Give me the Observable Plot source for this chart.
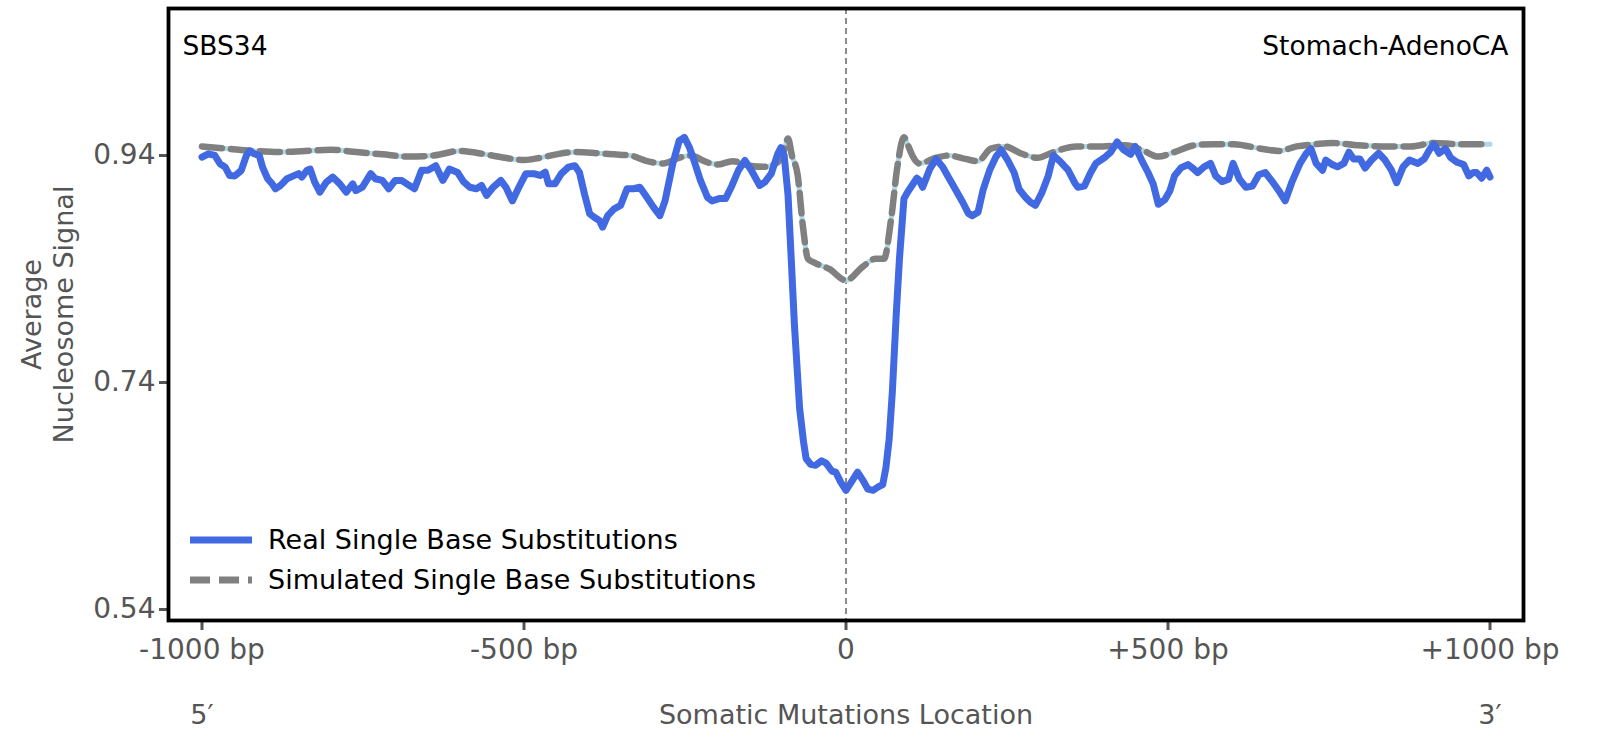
<!DOCTYPE html>
<html>
<head>
<meta charset="utf-8">
<script src="https://cdn.jsdelivr.net/npm/d3@7"></script>
<script src="https://cdn.jsdelivr.net/npm/@observablehq/plot@0.6"></script>
<style>
  html, body { margin: 0; padding: 0; background: white; }
  #chart { width: 1603px; height: 756px; }
</style>
</head>
<body>
<div id="chart"></div>
<script>
// ---- Data ----
const realX = [-1000,-990,-980,-972,-964,-957,-949,-939,-931,-926,-919,-911,-906,-898,-891,-886,-878,-868,-858,-850,-845,-837,-832,-825,-817,-807,-797,-786,-776,-766,-761,-751,-738,-731,-720,-710,-700,-690,-682,-670,-659,-649,-637,-626,-616,-603,
  -594,-584,-574,-566,-558,-548,-536,-528,-518,-508,-497,-485,-475,-467,-462,-452,-442,-431,-421,-414,-406,-398,-391,-383,-378,-370,-360,-350,-340,-330,-320,-309,-299,-289,-281,-269,-259,-251,-243,-236,-226,-215,-208,-197,-187,-177,-167,-157,-147,-134,-126,-116,-106,-101,
  -96,-90,-86,-80,-72,-66,-62,-55,-47,-38,-31,-22,-16,-8,0,8,18,26,34,42,50,57,62,67,72,78,83,90,96,103,110,114,119,130,140,150,160,170,181,190,196,205,
  213,223,233,241,251,261,269,279,286,294,304,314,322,332,345,355,360,370,380,388,401,411,421,431,442,449,459,469,477,485,495,503,510,520,531,538,546,556,566,574,584,594,
  601,611,621,631,641,651,662,672,682,692,705,715,722,730,740,745,755,763,773,781,788,798,806,816,827,837,847,855,865,875,888,898,906,913,921,931,939,949,959,967,974,979,987,995,1000];
const realY = [0.9385,0.9415,0.940,0.9327,0.9297,0.9224,0.922,0.9268,0.940,0.944,0.9415,0.940,0.9297,0.9195,0.915,0.9107,0.9136,0.9195,0.922,0.924,0.921,0.927,0.928,0.9165,0.9077,0.9165,0.921,0.915,0.9077,0.915,0.909,0.912,0.924,0.9195,0.918,0.9107,0.918,0.918,0.915,0.9107,0.927,0.927,0.931,0.918,0.928,0.925,
  0.917,0.912,0.9107,0.9136,0.9048,0.912,0.918,0.912,0.900,0.912,0.924,0.924,0.9224,0.9253,0.915,0.915,0.924,0.9297,0.931,0.9253,0.906,0.8886,0.8856,0.8827,0.8768,0.887,0.893,0.896,0.9107,0.9107,0.912,0.903,0.8945,0.887,0.900,0.9327,0.953,0.956,0.947,0.9356,0.918,0.903,0.900,0.902,0.902,0.9136,0.927,0.9356,0.927,0.9136,0.9165,0.924,0.9415,0.947,
  0.940,0.905,0.860,0.790,0.717,0.688,0.673,0.668,0.667,0.671,0.669,0.662,0.661,0.652,0.645,0.652,0.661,0.654,0.646,0.645,0.648,0.650,0.665,0.690,0.732,0.800,0.849,0.902,0.908,0.914,0.920,0.918,0.912,0.928,0.937,0.930,0.920,0.910,0.899,0.889,0.887,0.890,
  0.910,0.927,0.939,0.945,0.936,0.925,0.910,0.903,0.899,0.896,0.907,0.922,0.940,0.935,0.927,0.916,0.912,0.913,0.925,0.933,0.938,0.943,0.952,0.945,0.941,0.948,0.936,0.925,0.915,0.897,0.901,0.909,0.922,0.929,0.932,0.929,0.925,0.930,0.933,0.922,0.917,0.919,
  0.933,0.919,0.912,0.913,0.923,0.925,0.917,0.909,0.900,0.916,0.933,0.942,0.946,0.933,0.927,0.936,0.932,0.930,0.933,0.943,0.937,0.937,0.929,0.936,0.942,0.936,0.927,0.916,0.930,0.936,0.933,0.937,0.945,0.950,0.942,0.946,0.938,0.934,0.932,0.922,0.925,0.925,0.920,0.927,0.921];

const simX = [-1000,-960,-920,-880,-840,-800,-760,-720,-680,-640,-600,-560,-530,-500,-475,-450,-420,-386,-360,-335,-309,-284,-259,-240,-220,-200,-176,-150,-128,-106,-96,-90,-84,-75,-67,-59,-47,-26,0,26,46,59,70,80,90,97,103,114,140,160,185,205,225,246,271,297,322,358,398,434,459,485,510,541,571,602,644,672,700,730,755,796,837,877,913,949,1000];
const simY = [0.948,0.946,0.944,0.943,0.944,0.945,0.943,0.941,0.939,0.940,0.944,0.941,0.938,0.936,0.938,0.941,0.943,0.942,0.941,0.940,0.935,0.933,0.938,0.940,0.935,0.932,0.935,0.931,0.930,0.934,0.945,0.955,0.940,0.9225,0.878,0.849,0.845,0.840,0.830,0.842,0.849,0.849,0.884,0.931,0.956,0.948,0.940,0.933,0.938,0.940,0.937,0.935,0.946,0.948,0.942,0.938,0.943,0.948,0.948,0.949,0.945,0.939,0.943,0.949,0.950,0.950,0.946,0.944,0.948,0.950,0.951,0.949,0.948,0.948,0.951,0.950,0.950];

const xTicks = [-1000, -500, 0, 500, 1000];
const xTickLabels = ["-1000 bp", "-500 bp", "0", "+500 bp", "+1000 bp"];
const yTicks = [0.54, 0.74, 0.94];
const signature = "SBS34";
const cancerType = "Stomach-AdenoCA";
const legendLabels = ["Real Single Base Substitutions", "Simulated Single Base Substitutions"];

const real = realX.map((x, i) => ({x, y: realY[i]}));
const sim = simX.map((x, i) => ({x, y: simY[i]}));

const FONT = "DejaVu Sans, sans-serif";
const AXIS_COLOR = "#555555";

const W = 1603, H = 756;
const mL = 168, mR = 80, mT = 8, mB = 136;

const plot = Plot.plot({
  width: W,
  height: H,
  marginLeft: mL,
  marginRight: mR,
  marginTop: mT,
  marginBottom: mB,
  style: {fontFamily: FONT, background: "white", overflow: "visible"},
  x: {domain: [-1052, 1052]},
  y: {domain: [0.5303, 1.0695]},
  marks: [
    Plot.ruleX([0], {stroke: "gray", strokeWidth: 1.8, strokeDasharray: "6,4"}),
    Plot.line(sim, {x: "x", y: "y", stroke: "#ADD8E6", strokeWidth: 5, curve: "monotone-x"}),
    Plot.line(sim, {x: "x", y: "y", stroke: "gray", strokeWidth: 6.5, strokeDasharray: "20,9", curve: "monotone-x"}),
    Plot.line(real, {x: "x", y: "y", stroke: "royalblue", strokeWidth: 7, strokeLinejoin: "round", strokeLinecap: "round"}),
    Plot.axisY({ticks: yTicks, tickFormat: d3.format(".2f"), tickSize: 9, tickPadding: 4,
      fontSize: 28, color: AXIS_COLOR, strokeWidth: 3, label: null}),
    Plot.axisX({ticks: xTicks, tickFormat: (d) => xTickLabels[xTicks.indexOf(d)], tickSize: 10,
      tickPadding: 9, fontSize: 28, color: AXIS_COLOR, strokeWidth: 3, label: null}),
    Plot.frame({stroke: "black", strokeWidth: 3.8}),
    Plot.text([signature], {frameAnchor: "top-left", dx: 14, dy: 38, fontSize: 26.5, fill: "black", textAnchor: "start", lineAnchor: "middle"}),
    Plot.text([cancerType], {frameAnchor: "top-right", dx: -15, dy: 38, fontSize: 26.5, fill: "black", textAnchor: "end", lineAnchor: "middle"}),
    Plot.text(["Average\nNucleosome Signal"], {frameAnchor: "left", dx: -122, dy: 0, rotate: -90,
      fontSize: 27, fill: AXIS_COLOR, lineHeight: 1.18, textAnchor: "middle"}),
    Plot.text(["Somatic Mutations Location"], {frameAnchor: "bottom", dy: 103, fontSize: 27, fill: AXIS_COLOR}),
    Plot.text([{x: -1000, t: "5′"}, {x: 1000, t: "3′"}], {x: "x", text: "t", frameAnchor: "bottom", dy: 103, fontSize: 27, fill: AXIS_COLOR})
  ]
});

document.getElementById("chart").appendChild(plot);

// ---- Legend (inside frame, bottom-left) ----
const svg = d3.select(plot);
const lg = svg.append("g").attr("font-family", FONT).attr("font-size", 27).attr("text-anchor", "start");
const entries = [
  {label: legendLabels[0], stroke: "royalblue", dash: null, y: 540},
  {label: legendLabels[1], stroke: "gray", dash: "20,9", y: 580}
];
entries.forEach(e => {
  lg.append("line").attr("x1", 190).attr("x2", 252).attr("y1", e.y).attr("y2", e.y)
    .attr("stroke", e.stroke).attr("stroke-width", 7).attr("stroke-dasharray", e.dash);
  lg.append("text").attr("x", 268).attr("y", e.y).attr("dy", "0.35em").attr("fill", "black")
    .attr("text-anchor", "start").text(e.label);
});
</script>
</body>
</html>
